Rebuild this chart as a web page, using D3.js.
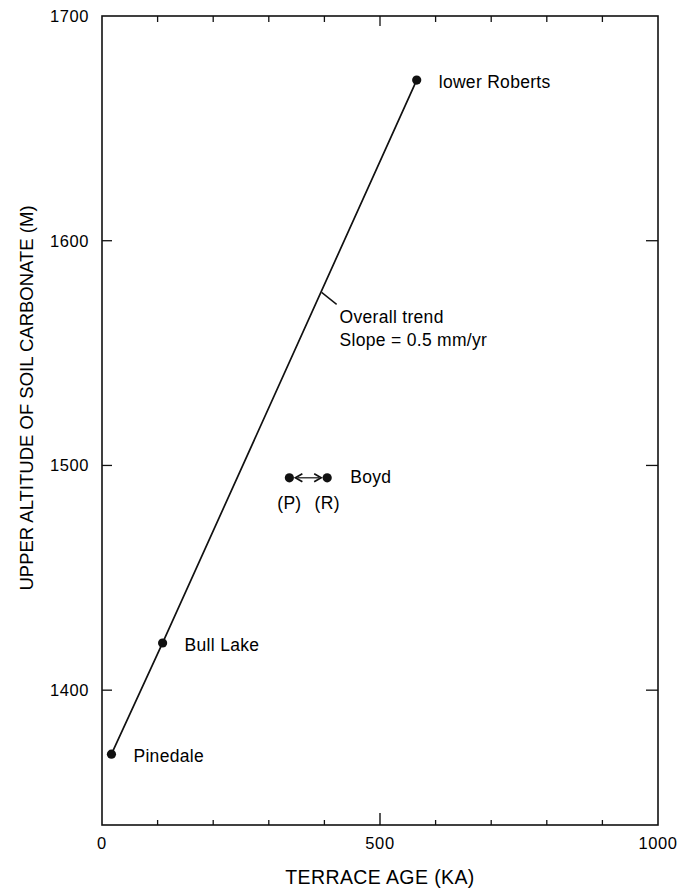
<!DOCTYPE html>
<html lang="en">
<head>
<meta charset="utf-8">
<title>Soil carbonate vs terrace age</title>
<script src="https://d3js.org/d3.v7.min.js"></script>
<style>
body {
  margin: 0;
  background-color: #fff;
  font-family: "Liberation Sans", Arial, sans-serif;
  color: #111;
}
.tick-label {
  font-size: 16.5px;
  letter-spacing: 0.6px;
}
.axis-title {
  font-size: 19.5px;
  letter-spacing: 0.4px;
}
.pt-label {
  font-size: 17.5px;
  letter-spacing: 0.3px;
}
</style>
</head>
<body>
<svg width="699" height="888"></svg>
<script>

// terraces on the overall trend
var terraces = ["Pinedale", "Bull Lake", "lower Roberts"];
var ages = [17, 109, 566];            // ka
var altitudes = [1371.5, 1421, 1671.5]; // m

// Boyd terrace, two possible ages
var boydNames = ["(P)", "(R)"];
var boydAges = [337, 405];
var boydAltitude = 1494.5;

var xMajor = [0, 500, 1000];
var xMinor = [100, 200, 300, 400, 600, 700, 800, 900];
var yTicks = [1400, 1500, 1600, 1700];

var svg = d3.select("svg"),
    margin = {top: 16, right: 41, bottom: 63, left: 102},
    width = +svg.attr("width") - margin.left - margin.right,
    height = +svg.attr("height") - margin.top - margin.bottom;

var x = d3.scaleLinear().domain([0, 1000]).range([0, width]);
var y = d3.scaleLinear().domain([1340, 1700]).range([height, 0]);

var g = svg.append("g")
    .attr("transform", "translate(" + margin.left + "," + margin.top + ")");

// frame
g.append("rect")
    .attr("width", width)
    .attr("height", height)
    .attr("fill", "none")
    .attr("stroke", "#111")
    .attr("stroke-width", 1.6);

// x ticks, inside the frame, bottom and top
g.selectAll(".xmaj")
  .data(xMajor.slice(1, -1))
  .enter().append("line")
    .attr("x1", function(d) { return x(d); })
    .attr("x2", function(d) { return x(d); })
    .attr("y1", height)
    .attr("y2", height - 12)
    .attr("stroke", "#111").attr("stroke-width", 1.4);

g.selectAll(".xmin")
  .data(xMinor)
  .enter().append("line")
    .attr("x1", function(d) { return x(d); })
    .attr("x2", function(d) { return x(d); })
    .attr("y1", height)
    .attr("y2", height - 5)
    .attr("stroke", "#111").attr("stroke-width", 1.3);

g.selectAll(".xtop")
  .data(xMinor.concat([500]))
  .enter().append("line")
    .attr("x1", function(d) { return x(d); })
    .attr("x2", function(d) { return x(d); })
    .attr("y1", 0)
    .attr("y2", function(d) { return d === 500 ? 10 : 6; })
    .attr("stroke", "#111").attr("stroke-width", 1.3);

g.selectAll(".xlabel")
  .data(xMajor)
  .enter().append("text")
    .attr("class", "tick-label")
    .attr("x", function(d) { return x(d); })
    .attr("y", height + 24)
    .attr("text-anchor", "middle")
    .text(function(d) { return d; });

// y ticks, left and right
g.selectAll(".yl")
  .data(yTicks.slice(0, -1))
  .enter().append("line")
    .attr("x1", 0).attr("x2", 10)
    .attr("y1", function(d) { return y(d); })
    .attr("y2", function(d) { return y(d); })
    .attr("stroke", "#111").attr("stroke-width", 1.3);

g.selectAll(".yr")
  .data(yTicks.slice(0, -1))
  .enter().append("line")
    .attr("x1", width).attr("x2", width - 12)
    .attr("y1", function(d) { return y(d); })
    .attr("y2", function(d) { return y(d); })
    .attr("stroke", "#111").attr("stroke-width", 1.3);

g.selectAll(".ylabel")
  .data(yTicks)
  .enter().append("text")
    .attr("class", "tick-label")
    .attr("x", -13)
    .attr("y", function(d) { return y(d); })
    .attr("dy", "0.36em")
    .attr("text-anchor", "end")
    .text(function(d) { return d; });

// axis titles
svg.append("text")
    .attr("class", "axis-title")
    .attr("x", margin.left + x(500))
    .attr("y", 884)
    .attr("text-anchor", "middle")
    .text("TERRACE AGE (KA)");

svg.append("text")
    .attr("class", "axis-title")
    .style("font-size", "18.5px")
    .style("letter-spacing", "0px")
    .attr("transform", "translate(33,398) rotate(-90)")
    .attr("text-anchor", "middle")
    .text("UPPER ALTITUDE OF SOIL CARBONATE (M)");

// trend line
var line = d3.line()
    .x(function(d) { return x(ages[d]); })
    .y(function(d) { return y(altitudes[d]); });

g.append("path")
    .datum(d3.range(terraces.length))
    .attr("d", line)
    .attr("fill", "none")
    .attr("stroke", "#111")
    .attr("stroke-width", 1.7);

g.selectAll(".dot")
  .data(terraces)
  .enter().append("circle")
    .attr("cx", function(d, i) { return x(ages[i]); })
    .attr("cy", function(d, i) { return y(altitudes[i]); })
    .attr("r", 4.6)
    .attr("fill", "#111");

g.selectAll(".tlabel")
  .data(terraces)
  .enter().append("text")
    .attr("class", "pt-label")
    .attr("x", function(d, i) { return x(ages[i]) + 22; })
    .attr("y", function(d, i) { return y(altitudes[i]); })
    .attr("dy", "0.45em")
    .text(function(d) { return d; });

// trend annotation with a leader from the line
var anchorAge = 395, anchorAlt = 1577;
var ax = x(anchorAge), ay = y(anchorAlt);
g.append("line")
    .attr("x1", ax).attr("y1", ay)
    .attr("x2", ax + 15).attr("y2", ay + 12)
    .attr("stroke", "#111").attr("stroke-width", 1.4);

g.append("text")
    .attr("class", "pt-label")
    .attr("x", ax + 18)
    .attr("y", ay + 31)
    .text("Overall trend");

g.append("text")
    .attr("class", "pt-label")
    .attr("x", ax + 18)
    .attr("y", ay + 54)
    .text("Slope = 0.5 mm/yr");

// Boyd terrace
var by = y(boydAltitude);
g.selectAll(".boyd")
  .data(boydNames)
  .enter().append("circle")
    .attr("cx", function(d, i) { return x(boydAges[i]); })
    .attr("cy", by)
    .attr("r", 4.6)
    .attr("fill", "#111");

g.selectAll(".boydlabel")
  .data(boydNames)
  .enter().append("text")
    .attr("class", "pt-label")
    .attr("x", function(d, i) { return x(boydAges[i]); })
    .attr("y", by + 31)
    .attr("text-anchor", "middle")
    .text(function(d) { return d; });

g.append("text")
    .attr("class", "pt-label")
    .attr("x", x(boydAges[1]) + 23)
    .attr("y", by)
    .attr("dy", "0.3em")
    .text("Boyd");

// double-headed arrow between the two Boyd ages
var a0 = x(boydAges[0]) + 6, a1 = x(boydAges[1]) - 6;
g.append("line")
    .attr("x1", a0 + 2).attr("x2", a1 - 2)
    .attr("y1", by).attr("y2", by)
    .attr("stroke", "#111").attr("stroke-width", 1.2);
g.append("path")
    .attr("d", "M" + (a0 + 7) + "," + (by - 4) + "L" + a0 + "," + by + "L" + (a0 + 7) + "," + (by + 4))
    .attr("fill", "none").attr("stroke", "#111").attr("stroke-width", 1.7);
g.append("path")
    .attr("d", "M" + (a1 - 7) + "," + (by - 4) + "L" + a1 + "," + by + "L" + (a1 - 7) + "," + (by + 4))
    .attr("fill", "none").attr("stroke", "#111").attr("stroke-width", 1.7);

</script>
</body>
</html>
